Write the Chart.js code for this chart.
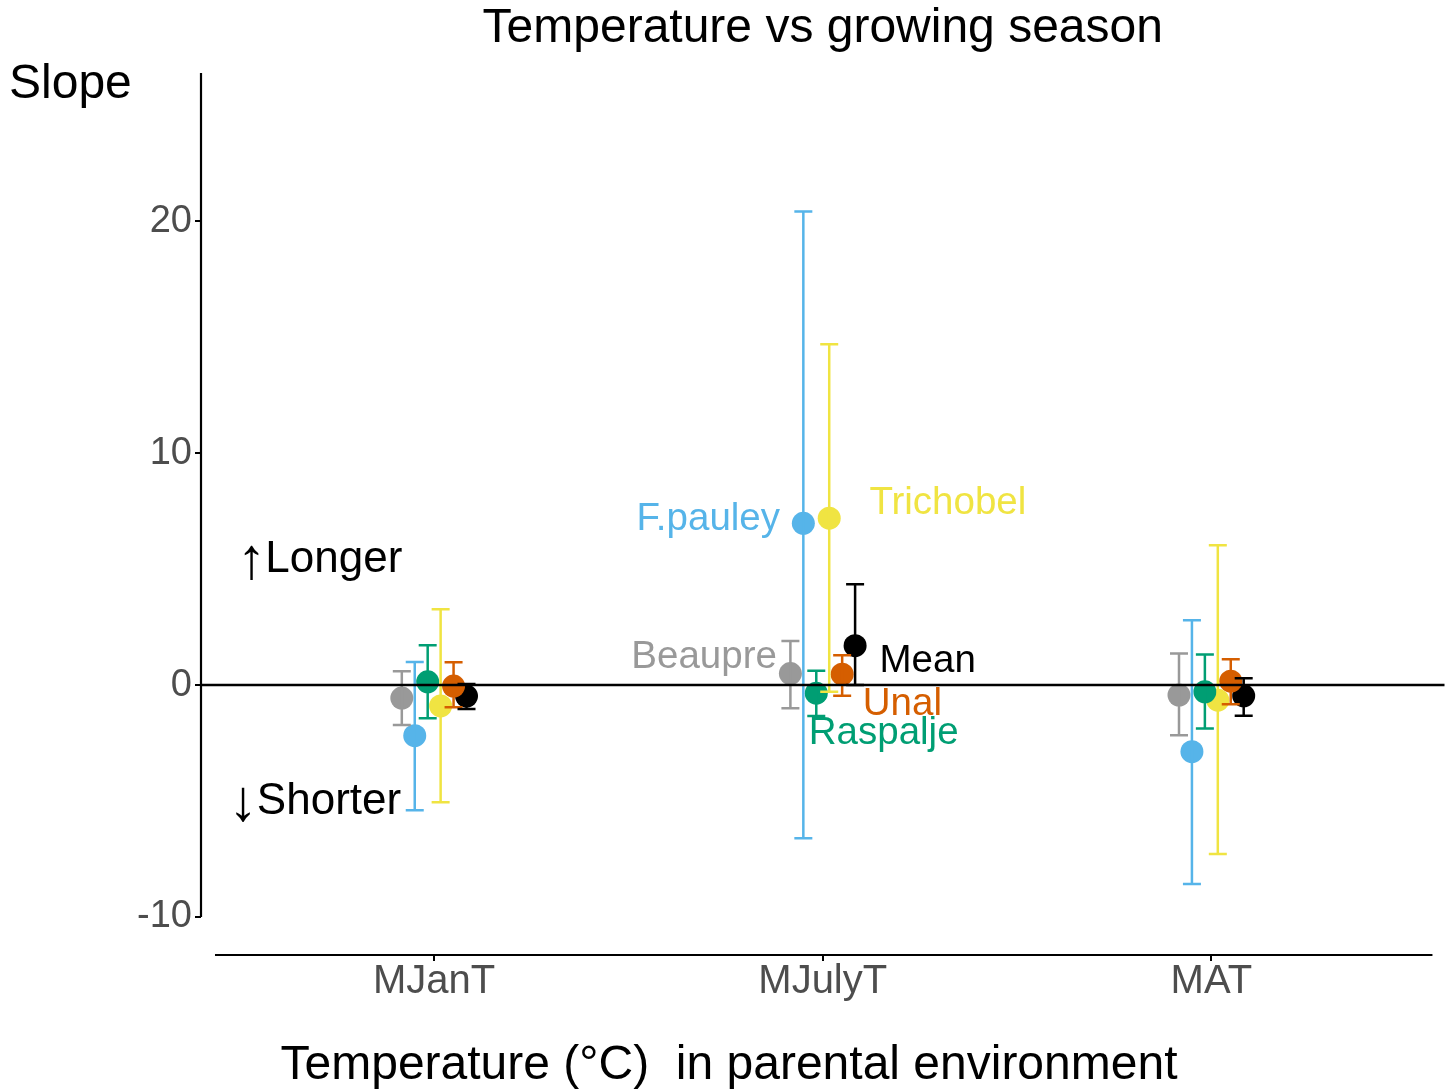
<!DOCTYPE html>
<html>
<head>
<meta charset="utf-8">
<script src="https://cdn.jsdelivr.net/npm/chart.js@4.4.1/dist/chart.umd.min.js"></script>
<style>
  body { margin: 0; background: #fff; }
  canvas { display: block; }
</style>
</head>
<body>
<canvas id="slopes" width="1456" height="1091"></canvas>
<script>
// categories on the x axis
var categories = ['MJanT', 'MJulyT', 'MAT'];
var yTicks = [-10, 0, 10, 20];

// series names and colours
var seriesNames = ['Beaupre', 'F.pauley', 'Raspalje', 'Trichobel', 'Unal', 'Mean'];
var seriesColors = ['#999999', '#56B4E9', '#009E73', '#F0E442', '#D55E00', '#000000'];

// slope estimates, one value per category (MJanT, MJulyT, MAT)
var beaupre   = [-0.56, 0.50, -0.43];
var fpauley   = [-2.18, 6.98, -2.87];
var raspalje  = [0.14, -0.35, -0.29];
var trichobel = [-0.90, 7.20, -0.65];
var unal      = [-0.04, 0.47, 0.17];
var mean      = [-0.47, 1.70, -0.46];

// lower / upper limits of the error bars
var beaupreLo   = [-1.72, -1.00, -2.16];
var beaupreHi   = [0.60, 1.90, 1.36];
var fpauleyLo   = [-5.40, -6.60, -8.58];
var fpauleyHi   = [1.00, 20.43, 2.80];
var raspaljeLo  = [-1.43, -1.33, -1.87];
var raspaljeHi  = [1.72, 0.62, 1.32];
var trichobelLo = [-5.05, -0.29, -7.28];
var trichobelHi = [3.27, 14.70, 6.03];
var unalLo      = [-0.95, -0.46, -0.83];
var unalHi      = [0.99, 1.29, 1.12];
var meanLo      = [-1.03, 0.00, -1.32];
var meanHi      = [0.05, 4.35, 0.30];

var values = [beaupre, fpauley, raspalje, trichobel, unal, mean];
var lows = [beaupreLo, fpauleyLo, raspaljeLo, trichobelLo, unalLo, meanLo];
var highs = [beaupreHi, fpauleyHi, raspaljeHi, trichobelHi, unalHi, meanHi];

// dodge between the series inside one category
var dodge = 0.0333;
function xPos(cat, s) { return cat + 1 + (s - 2.5) * dodge; }

// text labels put next to the points
var pointLabels = [
  { text: 'F.pauley', x: 1.89, y: 7.16, align: 'right', color: '#56B4E9' },
  { text: 'Trichobel', x: 2.12, y: 7.84, align: 'left', color: '#F0E442' },
  { text: 'Beaupre', x: 1.882, y: 1.21, align: 'right', color: '#999999' },
  { text: 'Mean', x: 2.146, y: 1.03, align: 'left', color: '#000000' },
  { text: 'Unal', x: 2.103, y: -0.82, align: 'left', color: '#D55E00' },
  { text: 'Raspalje', x: 1.964, y: -2.07, align: 'left', color: '#009E73' }
];
var sideLabels = [
  { arrow: '\u2191', text: 'Longer', x: 0.918, y: 5.39 },
  { arrow: '\u2193', text: 'Shorter', x: 0.915, y: -5.04 }
];

var FONT = '"Liberation Sans", Arial, sans-serif';

var datasets = seriesNames.map(function (name, s) {
  return {
    label: name,
    data: categories.map(function (c, i) { return { x: xPos(i, s), y: values[s][i] }; }),
    backgroundColor: seriesColors[s],
    borderWidth: 0,
    pointRadius: 11.5
  };
});

var extras = {
  id: 'extras',
  afterDatasetsDraw: function (chart) {
    var ctx = chart.ctx, xs = chart.scales.x, ys = chart.scales.y, area = chart.chartArea;
    ctx.save();
    // error bars
    ctx.lineWidth = 2.5;
    values.forEach(function (vals, s) {
      ctx.strokeStyle = seriesColors[s];
      vals.forEach(function (v, i) {
        var px = xs.getPixelForValue(xPos(i, s));
        var lo = ys.getPixelForValue(lows[s][i]);
        var hi = ys.getPixelForValue(highs[s][i]);
        ctx.beginPath();
        ctx.moveTo(px, lo); ctx.lineTo(px, hi);
        ctx.moveTo(px - 9, lo); ctx.lineTo(px + 9, lo);
        ctx.moveTo(px - 9, hi); ctx.lineTo(px + 9, hi);
        ctx.stroke();
      });
    });
    // zero line
    ctx.strokeStyle = '#000';
    ctx.beginPath();
    var y0 = ys.getPixelForValue(0);
    ctx.moveTo(area.left, y0); ctx.lineTo(area.right, y0);
    ctx.stroke();
    ctx.restore();
  },
  afterDraw: function (chart) {
    var ctx = chart.ctx, xs = chart.scales.x, ys = chart.scales.y, area = chart.chartArea;
    ctx.save();
    // axis lines
    ctx.strokeStyle = '#000';
    ctx.lineWidth = 2.2;
    ctx.beginPath();
    ctx.moveTo(area.left, ys.getPixelForValue(-10));
    ctx.lineTo(area.left, area.top);
    ctx.moveTo(xs.getPixelForValue(0.436), area.bottom);
    ctx.lineTo(xs.getPixelForValue(3.569), area.bottom);
    ctx.stroke();

    ctx.textBaseline = 'middle';
    // titles
    ctx.fillStyle = '#000';
    ctx.font = '48px ' + FONT;
    ctx.textAlign = 'center';
    ctx.fillText('Temperature vs growing season', (area.left + area.right) / 2, 29);
    ctx.fillText('Temperature (\u00B0C)  in parental environment', 729, 1066);
    ctx.textAlign = 'left';
    ctx.fillText('Slope', 9, 85);

    // point labels
    ctx.font = '38.5px ' + FONT;
    pointLabels.forEach(function (l) {
      ctx.fillStyle = l.color;
      ctx.textAlign = l.align;
      ctx.fillText(l.text, xs.getPixelForValue(l.x), ys.getPixelForValue(l.y));
    });

    // longer / shorter notes
    ctx.fillStyle = '#000';
    ctx.textAlign = 'right';
    sideLabels.forEach(function (l) {
      var px = xs.getPixelForValue(l.x), py = ys.getPixelForValue(l.y);
      ctx.font = '44px ' + FONT;
      ctx.fillText(l.text, px, py);
      var w = ctx.measureText(l.text).width;
      ctx.font = '58px ' + FONT;
      ctx.fillText(l.arrow, px - w + 1, py + 2);
    });
    ctx.restore();
  }
};

var chart = new Chart(document.getElementById('slopes').getContext('2d'), {
  type: 'scatter',
  data: { datasets: datasets },
  options: {
    responsive: false,
    animation: false,
    devicePixelRatio: 1,
    layout: { padding: { left: 0, right: 2, top: 73, bottom: 0 } },
    plugins: { legend: { display: false }, tooltip: { enabled: false } },
    scales: {
      x: {
        type: 'linear',
        min: 0.4,
        max: 3.6,
        afterBuildTicks: function (s) {
          s.ticks = categories.map(function (c, i) { return { value: i + 1 }; });
        },
        afterFit: function (s) { s.height = 136; },
        ticks: {
          callback: function (v) { return categories[v - 1]; },
          font: { size: 40, family: FONT },
          color: '#4d4d4d',
          padding: -3,
          maxRotation: 0
        },
        grid: { drawOnChartArea: false, tickLength: 6, color: '#000', lineWidth: 2 },
        border: { display: false }
      },
      y: {
        min: -11.64,
        max: 26.4,
        afterBuildTicks: function (s) {
          s.ticks = yTicks.map(function (v) { return { value: v }; });
        },
        afterFit: function (s) { s.width = 201; },
        ticks: {
          font: { size: 38, family: FONT },
          color: '#4d4d4d',
          padding: 3
        },
        grid: { drawOnChartArea: false, tickLength: 6, color: '#000', lineWidth: 2 },
        border: { display: false }
      }
    }
  },
  plugins: [extras]
});
</script>
</body>
</html>
